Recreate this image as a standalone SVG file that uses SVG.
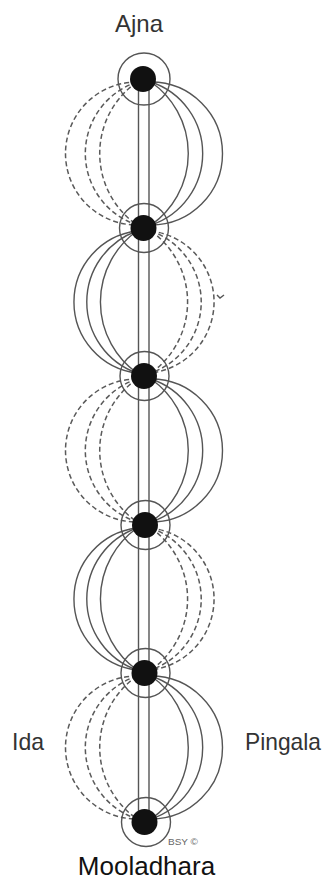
<svg xmlns="http://www.w3.org/2000/svg" width="324" height="882" viewBox="0 0 324 882">
<style>
.bg{fill:#ffffff}
.ln{fill:none;stroke:#555;stroke-width:1.4}
.ds{fill:none;stroke:#5a5a5a;stroke-width:1.5;stroke-dasharray:5 3}
.ring{fill:none;stroke:#555;stroke-width:1.4}
.dot{fill:#111}
.lbl{font-family:"Liberation Sans",Arial,sans-serif;fill:#333}
.moo{font-family:"Liberation Sans",Arial,sans-serif;fill:#111;font-size:26px}
.cp{font-family:"Liberation Sans",Arial,sans-serif;fill:#666;font-size:9px}
</style>
<rect class="bg" x="0" y="0" width="324" height="882"/>
<g id="connectors">
  <path class="ln" d="M138.5 79 V822"/>
  <path class="ln" d="M149 79 V822"/>
  <!-- segment 1: left dashed, right solid -->
  <path class="ds" d="M137 82 A87.2 87.2 0 0 0 137 225"/>
  <path class="ds" d="M137 82 A75.3 75.3 0 0 0 137 225"/>
  <path class="ds" d="M137 82 A71.5 71.5 0 0 0 137 225"/>
  <path class="ln" d="M151 82 A87.2 87.2 0 0 1 151 225"/>
  <path class="ln" d="M151 82 A75.3 75.3 0 0 1 151 225"/>
  <path class="ln" d="M151 82 A71.5 71.5 0 0 1 151 225"/>
  <!-- segment 2: left solid, right dashed -->
  <path class="ln" d="M137 231 A87.2 87.2 0 0 0 137 373"/>
  <path class="ln" d="M137 231 A75.3 75.3 0 0 0 137 373"/>
  <path class="ln" d="M137 231 A71.5 71.5 0 0 0 137 373"/>
  <path class="ds" d="M151 231 A87.2 87.2 0 0 1 151 373"/>
  <path class="ds" d="M151 231 A75.3 75.3 0 0 1 151 373"/>
  <path class="ds" d="M151 231 A71.5 71.5 0 0 1 151 373"/>
  <path class="ln" d="M217 295 L220 298 L224 295"/>
  <!-- segment 3: left dashed, right solid -->
  <path class="ds" d="M137 379 A87.2 87.2 0 0 0 137 522"/>
  <path class="ds" d="M137 379 A75.3 75.3 0 0 0 137 522"/>
  <path class="ds" d="M137 379 A71.5 71.5 0 0 0 137 522"/>
  <path class="ln" d="M151 379 A87.2 87.2 0 0 1 151 522"/>
  <path class="ln" d="M151 379 A75.3 75.3 0 0 1 151 522"/>
  <path class="ln" d="M151 379 A71.5 71.5 0 0 1 151 522"/>
  <!-- segment 4: left solid, right dashed -->
  <path class="ln" d="M137 528 A87.2 87.2 0 0 0 137 670"/>
  <path class="ln" d="M137 528 A75.3 75.3 0 0 0 137 670"/>
  <path class="ln" d="M137 528 A71.5 71.5 0 0 0 137 670"/>
  <path class="ds" d="M151 528 A87.2 87.2 0 0 1 151 670"/>
  <path class="ds" d="M151 528 A75.3 75.3 0 0 1 151 670"/>
  <path class="ds" d="M151 528 A71.5 71.5 0 0 1 151 670"/>
  <!-- segment 5: left dashed, right solid -->
  <path class="ds" d="M137 676 A87.2 87.2 0 0 0 137 819"/>
  <path class="ds" d="M137 676 A75.3 75.3 0 0 0 137 819"/>
  <path class="ds" d="M137 676 A71.5 71.5 0 0 0 137 819"/>
  <path class="ln" d="M151 676 A87.2 87.2 0 0 1 151 819"/>
  <path class="ln" d="M151 676 A75.3 75.3 0 0 1 151 819"/>
  <path class="ln" d="M151 676 A71.5 71.5 0 0 1 151 819"/>
</g>
<g id="ajna">
  <circle class="ring" cx="144" cy="79" r="26"/>
  <circle class="dot" cx="143" cy="79" r="13"/>
  <text class="lbl" x="139" y="32" font-size="24" text-anchor="middle">Ajna</text>
</g>
<g id="chakra2">
  <circle class="ring" cx="144" cy="228" r="24.5"/>
  <circle class="dot" cx="143.5" cy="228" r="13"/>
</g>
<g id="chakra3">
  <circle class="ring" cx="144.5" cy="376" r="24.5"/>
  <circle class="dot" cx="144" cy="376" r="13"/>
</g>
<g id="chakra4">
  <circle class="ring" cx="145.5" cy="525" r="24.5"/>
  <circle class="dot" cx="145" cy="525" r="13"/>
</g>
<g id="chakra5">
  <circle class="ring" cx="145.5" cy="673" r="24.5"/>
  <circle class="dot" cx="144.5" cy="673" r="13"/>
</g>
<g id="mooladhara">
  <circle class="ring" cx="146" cy="822" r="24.5"/>
  <circle class="dot" cx="144.5" cy="822" r="13"/>
  <text class="cp" x="168" y="845" textLength="30" lengthAdjust="spacingAndGlyphs">BSY ©</text>
  <text class="moo" x="146.5" y="875" text-anchor="middle">Mooladhara</text>
</g>
<g id="ida">
  <text class="lbl" x="12" y="750" font-size="24" textLength="32" lengthAdjust="spacingAndGlyphs">Ida</text>
</g>
<g id="pingala">
  <text class="lbl" x="245" y="750" font-size="24" textLength="76" lengthAdjust="spacingAndGlyphs">Pingala</text>
</g>
</svg>
